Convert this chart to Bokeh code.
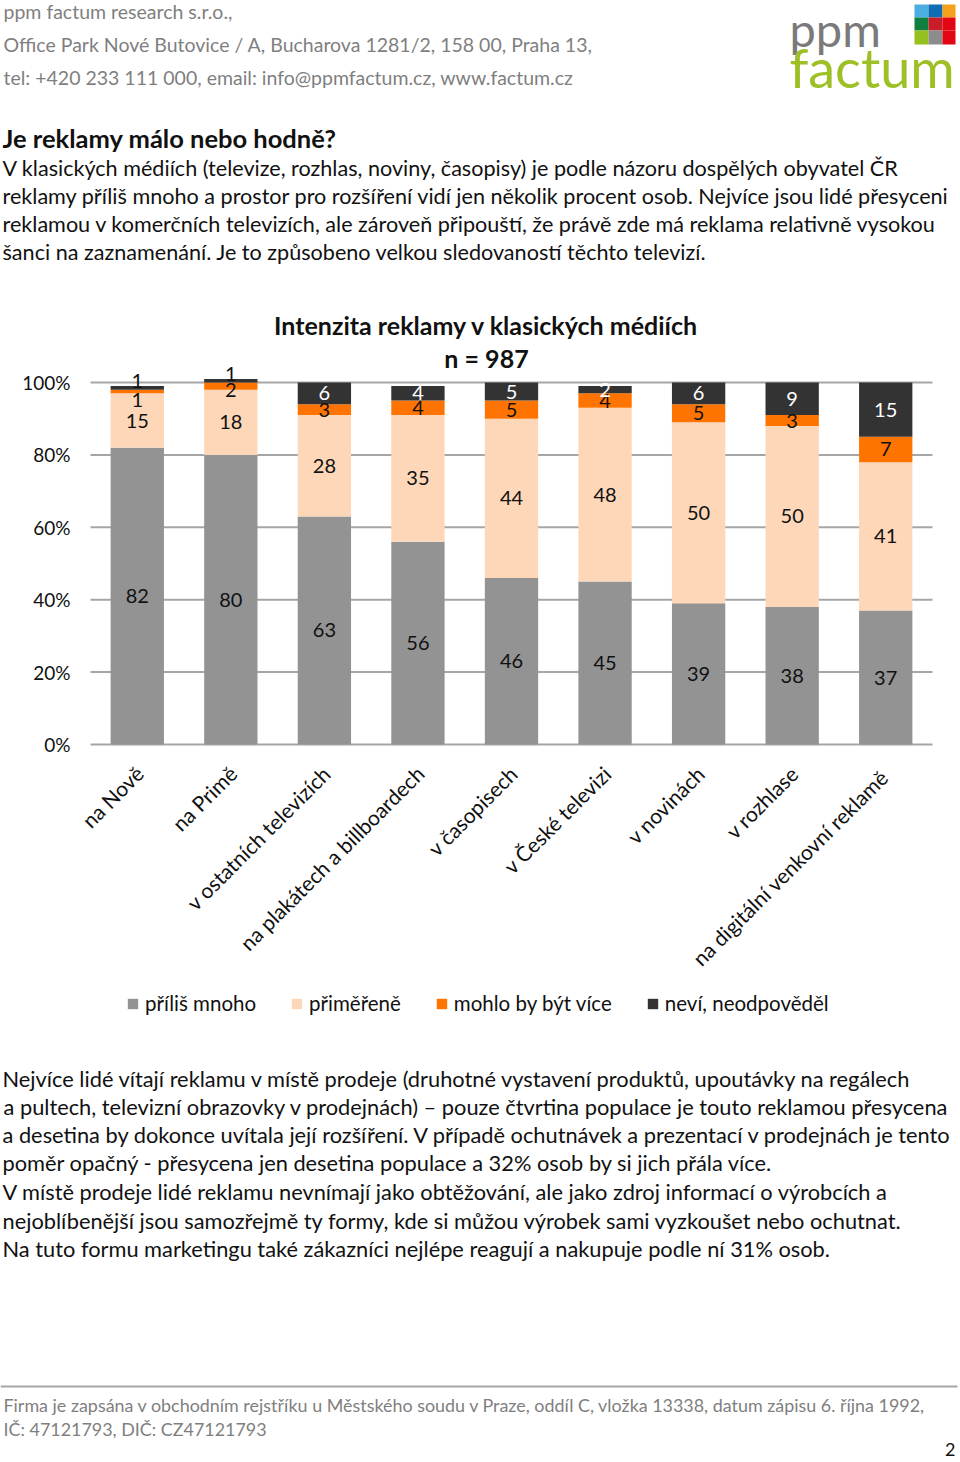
import math
from bokeh.plotting import figure
from bokeh.models import ColumnDataSource, Range1d, Label, LabelSet, Legend, LegendItem
from bokeh.core.properties import value
from bokeh.embed import file_html
from bokeh.resources import INLINE

# ---------------- data ----------------
categories = ["na Nově", "na Primě", "v ostatních televizích", "na plakátech a billboardech",
              "v časopisech", "v České televizi", "v novinách", "v rozhlase",
              "na digitální venkovní  reklamě"]
series_names = ["příliš mnoho", "přiměřeně", "mohlo by být více", "neví, neodpověděl"]
prilis_mnoho = [82, 80, 63, 56, 46, 45, 39, 38, 37]
primerene = [15, 18, 28, 35, 44, 48, 50, 50, 41]
mohlo_vice = [1, 2, 3, 4, 5, 4, 5, 3, 7]
nevi = [1, 1, 6, 4, 5, 2, 6, 9, 15]
y_ticks = [0, 20, 40, 60, 80, 100]
y_tick_labels = ["0%", "20%", "40%", "60%", "80%", "100%"]

header_lines = ["ppm factum research s.r.o.,",
                "Office Park Nové Butovice / A, Bucharova 1281/2, 158 00,  Praha 13,",
                "tel: +420 233 111 000, email: info@ppmfactum.cz, www.factum.cz"]
heading = "Je reklamy málo nebo hodně?"
intro_lines = [
    "V klasických médiích (televize, rozhlas, noviny, časopisy) je podle názoru dospělých obyvatel ČR",
    "reklamy příliš mnoho a prostor pro rozšíření vidí jen několik procent osob. Nejvíce jsou lidé přesyceni",
    "reklamou v komerčních televizích, ale zároveň připouští, že právě zde má reklama relativně vysokou",
    "šanci na zaznamenání. Je to způsobeno velkou sledovaností těchto televizí.",
]
chart_title = ["Intenzita reklamy v klasických médiích", "n = 987"]
outro_lines = [
    "Nejvíce lidé vítají reklamu v místě prodeje (druhotné vystavení produktů, upoutávky na regálech",
    " a pultech, televizní obrazovky v prodejnách) – pouze čtvrtina populace je touto reklamou přesycena",
    "a desetina by dokonce uvítala její rozšíření. V případě ochutnávek a prezentací v prodejnách je tento",
    "poměr opačný  -  přesycena jen desetina populace a 32% osob by si jich přála více.",
    "V místě prodeje lidé reklamu nevnímají jako obtěžování, ale jako zdroj informací o výrobcích a",
    "nejoblíbenější jsou samozřejmě ty formy, kde si můžou výrobek sami vyzkoušet nebo ochutnat.",
    "Na tuto formu marketingu také zákazníci nejlépe reagují a nakupuje podle ní 31% osob.",
]
footer_lines = ["Firma je zapsána v obchodním rejstříku u Městského soudu v Praze, oddíl C, vložka 13338, datum zápisu 6. října 1992,",
                "IČ: 47121793, DIČ: CZ47121793"]
page_no = "2"

colors = ["#939393", "#FDD7B8", "#FF7400", "#333333"]
FONT = "Lato"
TXT = "#111111"
GRAYTXT = "#7f7f7f"

# ---------------- page geometry (pixels) ----------------
PAGE_W, PAGE_H = 960, 1462
PLOT_L, PLOT_R = 90, 932          # plot area left / right
PLOT_ZERO, PLOT_HUNDRED = 744, 382
px_per_pct = (PLOT_ZERO - PLOT_HUNDRED) / 100.0
n_cat = len(categories)
px_per_cat = (PLOT_R - PLOT_L) / n_cat

p = figure(width=PAGE_W, height=PAGE_H, x_range=Range1d(0, PAGE_W), y_range=Range1d(PAGE_H, 0),
           output_backend="svg", toolbar_location=None, x_axis_type=None, y_axis_type=None,
           min_border=0)
p.grid.grid_line_color = None
p.outline_line_color = None
p.background_fill_color = "white"
p.border_fill_color = "white"

# category-slot scale (slot i spans i..i+1) and percent scale, both mapped onto the page
p.extra_x_ranges = {"cat": Range1d(-PLOT_L / px_per_cat, (PAGE_W - PLOT_L) / px_per_cat)}
p.extra_y_ranges = {"pct": Range1d((PLOT_ZERO - PAGE_H) / px_per_pct, PLOT_ZERO / px_per_pct)}
slot = [i + 0.5 for i in range(n_cat)]


def lab(text, x, y, size=20, color=TXT, bold=False, align="left", baseline="middle"):
    p.add_layout(Label(x=x, y=y, text=text, text_font=FONT, text_font_size=f"{size}px",
                       text_color=color, text_font_style="bold" if bold else "normal",
                       text_align=align, text_baseline=baseline))


# ---------------- header ----------------
for k, t in enumerate(header_lines):
    lab(t, 3, 11 + 33 * k, 19.5, GRAYTXT)
lab("ppm", 789, 28, 47, "#7a7a7a")
lab("factum", 789, 67, 54, "#9CC026")
logo_x0 = [914, 928, 942, 914, 928, 942, 914, 928, 942]
logo_x1 = [928, 942, 955, 928, 942, 955, 928, 942, 955]
logo_y0 = [4, 4, 4, 17, 17, 17, 30, 30, 30]
logo_y1 = [17, 17, 17, 30, 30, 30, 44, 44, 44]
logo_c = ["#4AAEE0", "#0F6DB5", "#F5A01A", "#0E7F3E", "#C81E2A", "#E30613",
          "#95C11F", "#8C8C8C", "#E30613"]
p.quad(left=logo_x0, right=logo_x1, top=logo_y0, bottom=logo_y1, fill_color=logo_c, line_color=None)

lab(heading, 2, 137, 25.5, TXT, bold=True)
for k, t in enumerate(intro_lines):
    lab(t, 2, 167 + 28 * k, 21.6)
lab(chart_title[0], 486, 324, 25, TXT, bold=True, align="center")
lab(chart_title[1], 486, 357, 25, TXT, bold=True, align="center")

# ---------------- chart ----------------
p.segment(x0=[PLOT_L] * len(y_ticks), x1=[PLOT_R] * len(y_ticks), y0=y_ticks, y1=y_ticks,
          y_range_name="pct", line_color="#A6A6A6", line_width=2)
p.text(x=[PLOT_L - 20] * len(y_ticks), y=y_ticks, text=y_tick_labels, y_range_name="pct",
       text_align="right", text_baseline="middle", text_font=value(FONT),
       text_font_size=value("19px"), text_color=TXT)

keys = ["a", "b", "c", "d"]
src = ColumnDataSource(dict(x=slot, cat=categories, a=prilis_mnoho, b=primerene, c=mohlo_vice, d=nevi))
rends = p.vbar_stack(keys, x="x", width=0.57, fill_color=colors, line_color=None, source=src,
                     x_range_name="cat", y_range_name="pct")

lx, ly, lt, lc, lo = [], [], [], [], []
series = [prilis_mnoho, primerene, mohlo_vice, nevi]
for i in range(n_cat):
    base = 0
    for s, vals in enumerate(series):
        v = vals[i]
        lx.append(slot[i])
        ly.append(base + v / 2)
        lt.append(str(v))
        off, col = 0, TXT
        if s == 3:
            col = "white"
            if v <= 1:
                off, col = 7, TXT
        if s == 2 and v <= 2:
            off = -4 if v == 2 else -8
        lo.append(off)
        lc.append(col)
        base += v
lsrc = ColumnDataSource(dict(x=lx, y=ly, t=lt, c=lc, o=lo))
p.add_layout(LabelSet(x="x", y="y", text="t", source=lsrc,
                      x_range_name="cat", y_range_name="pct", text_align="center",
                      text_baseline="middle", text_font=value(FONT), text_font_size=value("20px"),
                      text_color="c", y_offset="o"))

# category (axis) labels
csrc = ColumnDataSource(dict(x=slot, y=[0] * n_cat, t=categories))
p.add_layout(LabelSet(x="x", y="y", text="t", source=csrc,
                      x_range_name="cat", y_range_name="pct", angle=math.pi / 4,
                      text_align="right", text_baseline="middle", x_offset=2, y_offset=-25,
                      text_font=value(FONT), text_font_size=value("21px"), text_color=TXT))

items = [LegendItem(label=n, renderers=[r]) for n, r in zip(series_names, rends)]
leg = Legend(items=items, orientation="horizontal", location=(126, PAGE_H - 1015),
             glyph_width=13, glyph_height=13, label_standoff=6, spacing=34,
             padding=0, margin=0, border_line_color=None, background_fill_alpha=0,
             label_text_font=FONT, label_text_font_size="20.5px", label_text_color=TXT)
p.add_layout(leg)

# ---------------- lower text ----------------
ys = [1078, 1106, 1134, 1162, 1191, 1220, 1248]
xs = [2, 3, 2, 2, 2, 2, 2]
for t, xx, yy in zip(outro_lines, xs, ys):
    lab(t, xx, yy, 21.8)
p.segment(x0=[0], y0=[1386], x1=[957], y1=[1386], line_color="#A6A6A6", line_width=2)
lab(footer_lines[0], 3, 1404, 17.9, GRAYTXT)
lab(footer_lines[1], 3, 1428, 17.9, GRAYTXT)
lab(page_no, 955, 1449, 18, TXT, align="right")

open("out.html", "w").write(file_html(p, INLINE))
